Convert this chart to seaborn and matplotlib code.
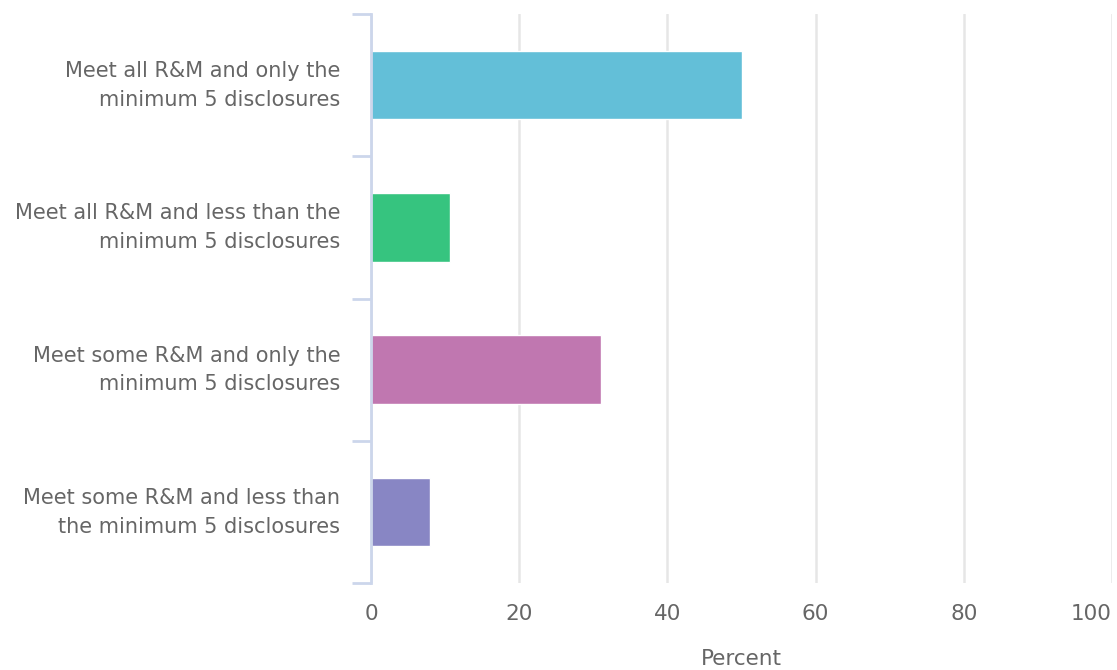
import matplotlib
matplotlib.use("Agg")
import matplotlib.pyplot as plt
import matplotlib.transforms as mtrans
import seaborn as sns
import pandas as pd
import numpy as np
from matplotlib.ticker import FixedLocator

categories = [
    "Meet all R&M and only the\nminimum 5 disclosures",
    "Meet all R&M and less than the\nminimum 5 disclosures",
    "Meet some R&M and only the\nminimum 5 disclosures",
    "Meet some R&M and less than\nthe minimum 5 disclosures",
]
values = [50.0, 10.6, 31.0, 7.9]
colors = ["#63bfd8", "#36c47f", "#c077b0", "#8886c4"]
x_ticks = [0, 20, 40, 60, 80, 100]
x_label = "Percent"

sns.set_theme(style="white")
plt.rcParams['font.family'] = ['DejaVu Sans']

df = pd.DataFrame({"category": categories, "value": values})

fig = plt.figure(figsize=(11.17, 6.7), dpi=100)
ax = fig.add_axes([371/1117, 1 - 583/670, 741/1117, 569/670])

sns.barplot(data=df, y="category", x="value", hue="category", palette=colors,
            orient="h", width=0.48, legend=False, ax=ax,
            edgecolor="white", linewidth=1, saturation=1)

ax.set_xlim(0, 100)
ax.set_ylim(3.5, -0.5)
ax.set_xticks(x_ticks)
ax.set_xticklabels([str(t) for t in x_ticks])
ax.grid(axis="x", color="#e6e6e6", linewidth=1.8)
ax.set_axisbelow(True)

for s in ["top", "right", "bottom"]:
    ax.spines[s].set_visible(False)
ax.spines["left"].set_color("#ccd6eb")
ax.spines["left"].set_linewidth(2)

ax.yaxis.set_minor_locator(FixedLocator([-0.5, 0.5, 1.5, 2.5, 3.5]))
ax.tick_params(axis="y", which="minor", length=14, width=2, color="#ccd6eb", left=True)
ax.tick_params(axis="y", which="major", length=0, pad=22, labelsize=15, labelcolor="#666666")
ax.tick_params(axis="x", length=0, pad=15, labelsize=15.5, labelcolor="#666666")
shift = mtrans.ScaledTranslation(0, 6 / 100, fig.dpi_scale_trans)
for lbl in ax.get_yticklabels():
    lbl.set_linespacing(1.55)
    lbl.set_horizontalalignment("right")
    lbl.set_multialignment("right")
    lbl.set_transform(lbl.get_transform() + shift)
xl = ax.get_xticklabels()
xl[-1].set_horizontalalignment("right")

ax.set_ylabel("")
ax.set_xlabel(x_label, fontsize=15.5, color="#666666", labelpad=18)

fig.savefig("out.png", dpi=100)
